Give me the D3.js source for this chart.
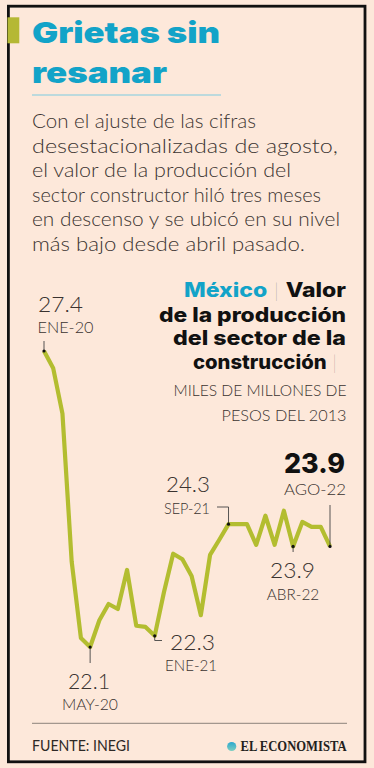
<!DOCTYPE html>
<html><head><meta charset="utf-8">
<script src="https://cdn.jsdelivr.net/npm/d3@7/dist/d3.min.js"></script>
<style>
html,body{margin:0;padding:0;background:#fde8da;}
svg{display:block;}
</style></head>
<body>
<script>
// ---- DATA ----
const months = ["ENE-20","FEB-20","MAR-20","ABR-20","MAY-20","JUN-20","JUL-20","AGO-20","SEP-20","OCT-20","NOV-20","DIC-20",
  "ENE-21","FEB-21","MAR-21","ABR-21","MAY-21","JUN-21","JUL-21","AGO-21","SEP-21","OCT-21","NOV-21","DIC-21",
  "ENE-22","FEB-22","MAR-22","ABR-22","MAY-22","JUN-22","JUL-22","AGO-22"];
const values = [27.4, 27.09, 26.28, 23.63, 22.26, 22.1, 22.58, 22.87, 22.78, 23.48, 22.48, 22.46,
  22.3, 23.08, 23.77, 23.67, 23.37, 22.67, 23.75, 24.02, 24.3, 24.3, 24.3, 23.93,
  24.45, 23.93, 24.54, 23.9, 24.34, 24.25, 24.25, 23.9];
// annotations: index into series, value label, date label
const annIndex = [0, 5, 12, 20, 27, 31];
const annValue = ["27.4", "22.1", "22.3", "24.3", "23.9", "23.9"];
const annDate  = ["ENE-20", "MAY-20", "ENE-21", "SEP-21", "ABR-22", "AGO-22"];

const titleLines = ["Grietas sin", "resanar"];
const bodyLines = ["Con el ajuste de las cifras", "desestacionalizadas de agosto,", "el valor de la producción del",
  "sector constructor hiló tres meses", "en descenso y se ubicó en su nivel", "más bajo desde abril pasado."];
const source = "FUENTE: INEGI";
const brand = "EL ECONOMISTA";

// ---- DRAW ----
const W = 374, H = 768;
const BLUE = "#12a3c8", OLIVE = "#b3bd30", TXT = "#3a3330";
const LIGHT = "Lato, 'Open Sans', sans-serif", HEAVY = "Inter, Lato, sans-serif";
const svg = d3.select("body").append("svg").attr("width", W).attr("height", H);
svg.append("rect").attr("width", W).attr("height", H).attr("fill", "#fde8da");
svg.append("rect").attr("x", 8.4).attr("y", 6.2).attr("width", 356.6).attr("height", 755.6)
  .attr("fill", "none").attr("stroke", "#111").attr("stroke-width", 2.8);
svg.append("rect").attr("x", 7.5).attr("y", 17.3).attr("width", 11.8).attr("height", 26).attr("fill", "#b5b834");

function txt(s, x, y, o) {
  const t = svg.append("text").attr("x", x).attr("y", y).text(s)
    .attr("font-family", o.family || LIGHT)
    .attr("font-size", o.size).attr("font-weight", o.weight || 300)
    .attr("fill", o.fill || TXT).attr("text-anchor", o.anchor || "start");
  if (o.len) t.attr("textLength", o.len).attr("lengthAdjust", "spacingAndGlyphs");
  return t;
}

// title
const titleY = [42.5, 83], titleLen = [188, 135];
titleLines.forEach((s, i) => txt(s, 32, titleY[i], {size: 29, weight: 900, fill: BLUE, len: titleLen[i], family: HEAVY}));
svg.append("line").attr("x1", 32).attr("x2", 221).attr("y1", 95).attr("y2", 95).attr("stroke", "#7ccbe0").attr("stroke-width", 1);

// body
const bodyLen = [224, 306, 259, 289, 308, 273];
bodyLines.forEach((s, i) => txt(s, 32, 128 + i * 24.5, {size: 19.5, weight: 300, fill: "#3b3431", len: bodyLen[i]}));

// chart subtitle block (right aligned)
const sub1 = svg.append("text").attr("x", 346).attr("y", 297).attr("text-anchor", "end")
  .attr("font-family", HEAVY).attr("font-size", 20).attr("textLength", 162).attr("lengthAdjust", "spacingAndGlyphs");
sub1.append("tspan").text("México").attr("fill", BLUE).attr("font-weight", 800);
sub1.append("tspan").text(" | ").attr("fill", "#555").attr("font-weight", 200).attr("font-family", LIGHT);
sub1.append("tspan").text("Valor").attr("fill", "#111").attr("font-weight", 800);
txt("de la producción", 346, 321.5, {size: 20, weight: 800, fill: "#111", anchor: "end", len: 187, family: HEAVY});
txt("del sector de la", 346, 345, {size: 20, weight: 800, fill: "#111", anchor: "end", len: 173, family: HEAVY});
const sub4 = svg.append("text").attr("x", 337).attr("y", 368.5).attr("text-anchor", "end")
  .attr("font-family", HEAVY).attr("font-size", 20).attr("textLength", 144).attr("lengthAdjust", "spacingAndGlyphs");
sub4.append("tspan").text("construcción").attr("fill", "#111").attr("font-weight", 800);
sub4.append("tspan").text(" |").attr("fill", "#555").attr("font-weight", 200).attr("font-family", LIGHT);
txt("MILES DE MILLONES DE", 346.5, 396, {size: 15, weight: 300, anchor: "end", len: 173});
txt("PESOS DEL 2013", 346.5, 420.5, {size: 15, weight: 300, anchor: "end", len: 125});

// scales
const x = d3.scaleLinear().domain([0, values.length - 1]).range([44, 330]);
const y = d3.scaleLinear().domain([22.1, 27.4]).range([647, 351]);

svg.append("path").datum(values)
  .attr("d", d3.line().x((d, i) => x(i)).y(d => y(d)))
  .attr("fill", "none").attr("stroke", OLIVE).attr("stroke-width", 4.2)
  .attr("stroke-linejoin", "round").attr("stroke-linecap", "butt");

// leaders
const LC = "#444";
function seg(pts) {
  svg.append("path").attr("d", d3.line()(pts)).attr("fill", "none").attr("stroke", LC).attr("stroke-width", 0.9);
}
const P = annIndex.map(i => [x(i), y(values[i])]);
seg([[P[0][0], 341], P[0]]);
seg([P[1], [P[1][0], 663]]);
seg([P[2], [P[2][0], 640.5], [162, 640.5]]);
seg([[217, 507], [P[3][0], 507], P[3]]);
seg([P[4], [P[4][0], 552]]);
seg([[P[5][0], 505], P[5]]);
P.forEach(p => svg.append("circle").attr("cx", p[0]).attr("cy", p[1]).attr("r", 1.6).attr("fill", "#111"));

// annotation labels
txt(annValue[0], 38, 312, {size: 22, len: 45});
txt(annDate[0], 37.5, 333, {size: 15, len: 56});
txt(annValue[1], 89, 689, {size: 22, anchor: "middle", len: 42});
txt(annDate[1], 90, 710, {size: 15, anchor: "middle", len: 56});
txt(annValue[2], 170, 650, {size: 22, len: 45});
txt(annDate[2], 165, 671, {size: 15, len: 52});
txt(annValue[3], 210, 491.5, {size: 22, anchor: "end", len: 44});
txt(annDate[3], 210, 514, {size: 15, anchor: "end", len: 46});
txt(annValue[4], 292.5, 578, {size: 22, anchor: "middle", len: 45});
txt(annDate[4], 293, 600, {size: 15, anchor: "middle", len: 52.5});
txt(annValue[5], 345, 473, {size: 27, weight: 800, fill: "#111", anchor: "end", len: 61, family: HEAVY});
txt(annDate[5], 346, 495, {size: 15, anchor: "end", len: 62});

// footer
svg.append("line").attr("x1", 32).attr("x2", 347).attr("y1", 723.3).attr("y2", 723.3).attr("stroke", "#8c827b").attr("stroke-width", 1);
txt(source, 32, 750.5, {size: 15, weight: 400, fill: "#2e2926", len: 98});
const g = svg.append("defs").append("linearGradient").attr("id", "lg").attr("x1", 0).attr("y1", 0).attr("x2", 0).attr("y2", 1);
g.append("stop").attr("offset", "0%").attr("stop-color", "#2aa7cf");
g.append("stop").attr("offset", "100%").attr("stop-color", "#7fcfc0");
svg.append("circle").attr("cx", 231.7).attr("cy", 746.5).attr("r", 4.6).attr("fill", "url(#lg)");
txt(brand, 346.5, 750.5, {size: 14, weight: 700, fill: "#231f1d", anchor: "end", len: 106, family: "'Liberation Serif', 'DejaVu Serif', serif"});
</script>
</body></html>
